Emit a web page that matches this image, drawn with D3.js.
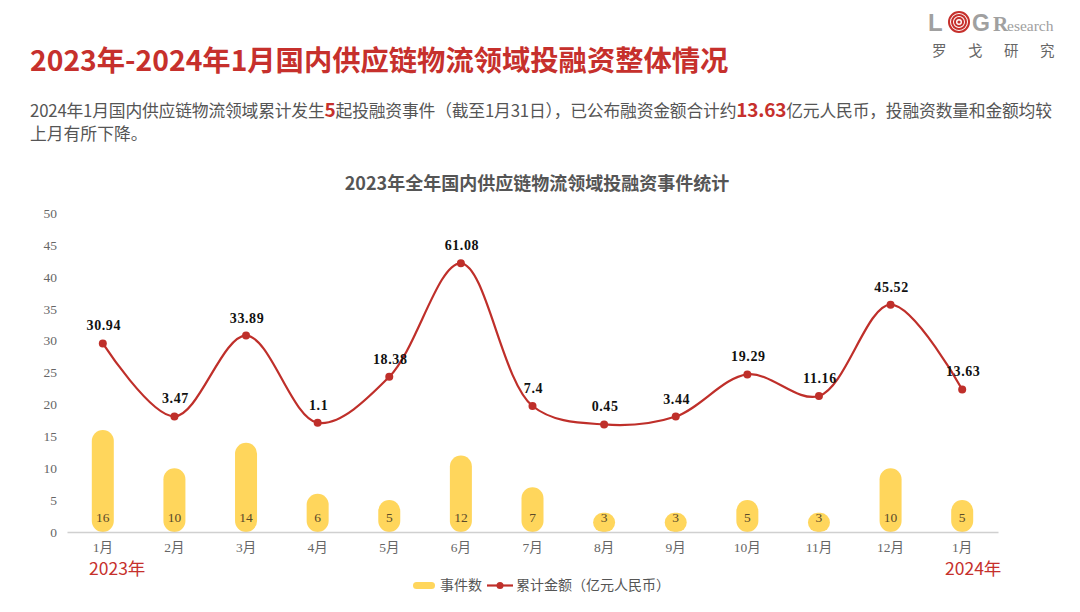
<!DOCTYPE html>
<html><head><meta charset="utf-8">
<script src="https://cdn.jsdelivr.net/npm/d3@7"></script>
<style>
html,body{margin:0;padding:0;background:#fff;}
svg{display:block;}
</style></head>
<body>
<svg id="c" width="1080" height="612"></svg>
<script>
const months = ["1月","2月","3月","4月","5月","6月","7月","8月","9月","10月","11月","12月","1月"];
const eventCounts = [16,10,14,6,5,12,7,3,3,5,3,10,5];
const amounts = [30.94,3.47,33.89,1.1,18.38,61.08,7.4,0.45,3.44,19.29,11.16,45.52,13.63];
const leftTicks = [0,5,10,15,20,25,30,35,40,45,50];
const amountLabels = ["30.94","3.47","33.89","1.1","18.38","61.08","7.4","0.45","3.44","19.29","11.16","45.52","13.63"];

const svg = d3.select("#c");
const CJK = "'Noto Sans CJK SC','Noto Sans',sans-serif";
const SERIF = "'Liberation Serif','DejaVu Serif','Noto Sans CJK SC',serif";
const RED = "#c6302c";

// Title
svg.append("text").attr("x",30).attr("y",71)
  .attr("font-family",CJK).attr("font-weight","bold").attr("font-size",28.3)
  .attr("fill",RED).text("2023年-2024年1月国内供应链物流领域投融资整体情况");

// Subtitle
const sub = svg.append("text").attr("x",30).attr("y",117)
  .attr("font-family",CJK).attr("font-size",16.8).attr("fill","#555")
  .attr("textLength",1022).attr("lengthAdjust","spacing");
sub.append("tspan").text("2024年1月国内供应链物流领域累计发生");
sub.append("tspan").attr("font-weight","bold").attr("fill",RED).attr("font-size",19).text("5");
sub.append("tspan").text("起投融资事件（截至1月31日），已公布融资金额合计约");
sub.append("tspan").attr("font-weight","bold").attr("fill",RED).attr("font-size",19).text("13.63");
sub.append("tspan").text("亿元人民币，投融资数量和金额均较");
svg.append("text").attr("x",30).attr("y",140)
  .attr("font-family",CJK).attr("font-size",16.8).attr("fill","#555").text("上月有所下降。");

// Logo
const lg = svg.append("g");
lg.append("text").attr("x",928).attr("y",31).attr("font-family","'Liberation Sans',Arial,sans-serif")
  .attr("font-weight","bold").attr("font-size",24).attr("fill","#a0a0a0").text("L");
[10,7,4].forEach((r,i)=>{
  lg.append("circle").attr("cx",959).attr("cy",22).attr("r",r)
    .attr("fill","none").attr("stroke",RED).attr("stroke-width",2);
});
lg.append("circle").attr("cx",959).attr("cy",22).attr("r",1.6).attr("fill",RED);
lg.append("text").attr("x",972).attr("y",31).attr("font-family","'Liberation Sans',Arial,sans-serif")
  .attr("font-weight","bold").attr("font-size",23).attr("fill","#a0a0a0").text("G");
lg.append("text").attr("x",993).attr("y",31).attr("font-family","'Liberation Serif',serif")
  .attr("font-weight","bold").attr("font-size",21).attr("fill","#a0a0a0").text("R");
lg.append("text").attr("x",1007).attr("y",31).attr("font-family","'Liberation Serif',serif")
  .attr("font-size",15.5).attr("fill","#a0a0a0").text("esearch");
lg.append("text").attr("x",932).attr("y",56).attr("font-family",CJK)
  .attr("font-size",14.5).attr("fill","#666").attr("letter-spacing",21.5).text("罗戈研究");

// Chart title
svg.append("text").attr("x",537).attr("y",190).attr("text-anchor","middle")
  .attr("font-family",CJK).attr("font-weight","bold").attr("font-size",18)
  .attr("fill","#555").text("2023年全年国内供应链物流领域投融资事件统计");

// Scales
const x = d3.scaleBand().domain(d3.range(months.length)).range([67,998]).paddingInner(0).paddingOuter(0);
const yL = d3.scaleLinear().domain([0,50]).range([532,213]);
const yR = d3.scaleLinear().domain([-40,80]).range([532,213]);

// Left axis
const ay = d3.axisLeft(yL).tickValues(leftTicks).tickSize(0).tickPadding(0);
const gy = svg.append("g").attr("transform","translate(57,0)").call(ay);
gy.select(".domain").remove();
gy.selectAll("text").attr("font-family",SERIF).attr("font-size",13.5).attr("fill","#666");

// Bars
const bw = 22;
svg.append("g").selectAll("rect").data(eventCounts).join("rect")
  .attr("x",(d,i)=>x(i)+x.bandwidth()/2-bw/2)
  .attr("y",d=>yL(d))
  .attr("width",bw)
  .attr("height",d=>yL(0)-yL(d))
  .attr("rx",d=>Math.min(bw/2,(yL(0)-yL(d))/2))
  .attr("fill","#ffd65c");

// X axis
const ax = d3.axisBottom(x).tickFormat(i=>months[i]).tickSize(0).tickPadding(10);
const gx = svg.append("g").attr("transform","translate(0,532)").call(ax);
gx.select(".domain").attr("stroke","#d0d0d0").attr("stroke-width",1.5);
gx.selectAll("text").attr("font-family",SERIF).attr("font-size",13.5).attr("fill","#666");

// Bar labels
svg.append("g").selectAll("text").data(eventCounts).join("text")
  .attr("x",(d,i)=>x(i)+x.bandwidth()/2)
  .attr("y",522).attr("text-anchor","middle")
  .attr("font-family",SERIF).attr("font-size",13.5).attr("fill","#5a4a2a")
  .text(d=>d);

// Line
const line = d3.line().x((d,i)=>x(i)+x.bandwidth()/2).y(d=>yR(d)).curve(d3.curveCatmullRom.alpha(0.5));
svg.append("path").datum(amounts).attr("d",line)
  .attr("fill","none").attr("stroke","#bf2f2a").attr("stroke-width",2.2);
svg.append("g").selectAll("circle").data(amounts).join("circle")
  .attr("cx",(d,i)=>x(i)+x.bandwidth()/2).attr("cy",d=>yR(d)).attr("r",4)
  .attr("fill","#bf2f2a");
svg.append("g").selectAll("text").data(amounts).join("text")
  .attr("x",(d,i)=>x(i)+x.bandwidth()/2+1).attr("y",d=>yR(d)-13)
  .attr("text-anchor","middle").attr("font-family",SERIF).attr("font-weight","bold")
  .attr("font-size",14).attr("letter-spacing",0.6).attr("fill","#111").text((d,i)=>amountLabels[i]);

// Year labels
svg.append("text").attr("x",89).attr("y",575).attr("font-family",CJK).attr("font-size",17.5)
  .attr("fill",RED).text("2023年");
svg.append("text").attr("x",945).attr("y",575).attr("font-family",CJK).attr("font-size",17.5)
  .attr("fill",RED).text("2024年");

// Legend
const leg = svg.append("g");
leg.append("rect").attr("x",413).attr("y",582).attr("width",22).attr("height",7).attr("rx",3.5).attr("fill","#ffd65c");
leg.append("text").attr("x",440).attr("y",590).attr("font-family",CJK).attr("font-size",14).attr("fill","#555").text("事件数");
leg.append("line").attr("x1",487).attr("x2",513).attr("y1",585.5).attr("y2",585.5).attr("stroke","#bf2f2a").attr("stroke-width",2.2);
leg.append("circle").attr("cx",500).attr("cy",585.5).attr("r",3.5).attr("fill","#bf2f2a");
leg.append("text").attr("x",516).attr("y",590).attr("font-family",CJK).attr("font-size",14).attr("fill","#555").text("累计金额（亿元人民币）");
</script>
</body></html>
